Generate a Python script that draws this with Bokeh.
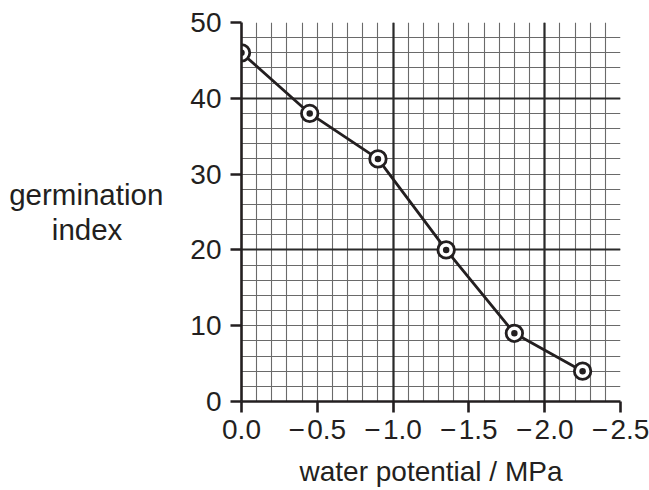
from bokeh.plotting import figure
from bokeh.models import Range1d, FixedTicker, Grid, LinearAxis
from bokeh.embed import file_html
from bokeh.resources import INLINE

# data
water_potential = [0.0, -0.45, -0.9, -1.35, -1.8, -2.25]
germination_index = [46, 38, 32, 20, 9, 4]
x_ticks = [0.0, -0.5, -1.0, -1.5, -2.0, -2.5]
x_tick_labels = ["0.0", "\u2212\u200a0.5", "\u2212\u200a1.0", "\u2212\u200a1.5", "\u2212\u200a2.0", "\u2212\u200a2.5"]
y_ticks = [0, 10, 20, 30, 40, 50]
x_title = "water potential / MPa"
y_title = "germination\nindex" + "\u00a0" * 5

INK = "#231f20"
FONT = "Liberation Sans"

p = figure(width=649, height=490, output_backend="svg", toolbar_location=None,
           x_range=Range1d(0, -2.5), y_range=Range1d(0, 50),
           min_border_left=241, min_border_right=29, min_border_top=22, min_border_bottom=89,
           x_axis_type=None, y_axis_type=None)
p.outline_line_color = None
p.background_fill_color = "white"
p.border_fill_color = "white"

# grids
xminor = [round(-0.1 * i, 2) for i in range(1, 26)]
yminor = [2 * i for i in range(1, 26)]
for dim, ticks, color, w in [
    (0, xminor, "#6a6a6a", 1.1),
    (1, yminor, "#6a6a6a", 1.1),
    (0, [-1.0, -2.0], "#2a2a2a", 2.2),
    (1, [20, 40], "#2a2a2a", 2.2),
]:
    g = Grid(dimension=dim, ticker=FixedTicker(ticks=ticks), grid_line_color=color, grid_line_width=w)
    p.add_layout(g, "center")

# axes
xaxis = LinearAxis(ticker=FixedTicker(ticks=x_ticks, minor_ticks=[]), axis_label=x_title)
xaxis.major_label_overrides = {t: l for t, l in zip(x_ticks, x_tick_labels)}
yaxis = LinearAxis(ticker=FixedTicker(ticks=y_ticks, minor_ticks=[]), axis_label=y_title)
for ax in (xaxis, yaxis):
    ax.axis_line_color = INK
    ax.axis_line_width = 2.6
    ax.major_tick_line_color = INK
    ax.major_tick_line_width = 2.6
    ax.major_tick_in = 0
    ax.major_tick_out = 11
    ax.minor_tick_line_color = None
    ax.major_label_text_font = FONT
    ax.major_label_text_font_size = "28px"
    ax.major_label_text_color = INK
    ax.axis_label_text_font = FONT
    ax.axis_label_text_font_style = "normal"
    ax.axis_label_text_color = INK
xaxis.major_label_standoff = 1
xaxis.axis_label_text_font_size = "28px"
xaxis.axis_label_standoff = 8
yaxis.major_label_standoff = 9
yaxis.axis_label_text_font_size = "29.5px"
yaxis.axis_label_text_line_height = 1.05
yaxis.axis_label_orientation = "horizontal"
yaxis.axis_label_standoff = 24
p.add_layout(xaxis, "below")
p.add_layout(yaxis, "left")

# line and markers
p.line(water_potential, germination_index, line_color=INK, line_width=2.8)
p.scatter(water_potential, germination_index, marker="circle", size=16.5, fill_color="white",
          line_color=INK, line_width=2.8)
p.scatter(water_potential, germination_index, marker="circle", size=6.5, fill_color=INK,
          line_color=INK, line_width=0)

open("out.html", "w").write(file_html(p, INLINE))
